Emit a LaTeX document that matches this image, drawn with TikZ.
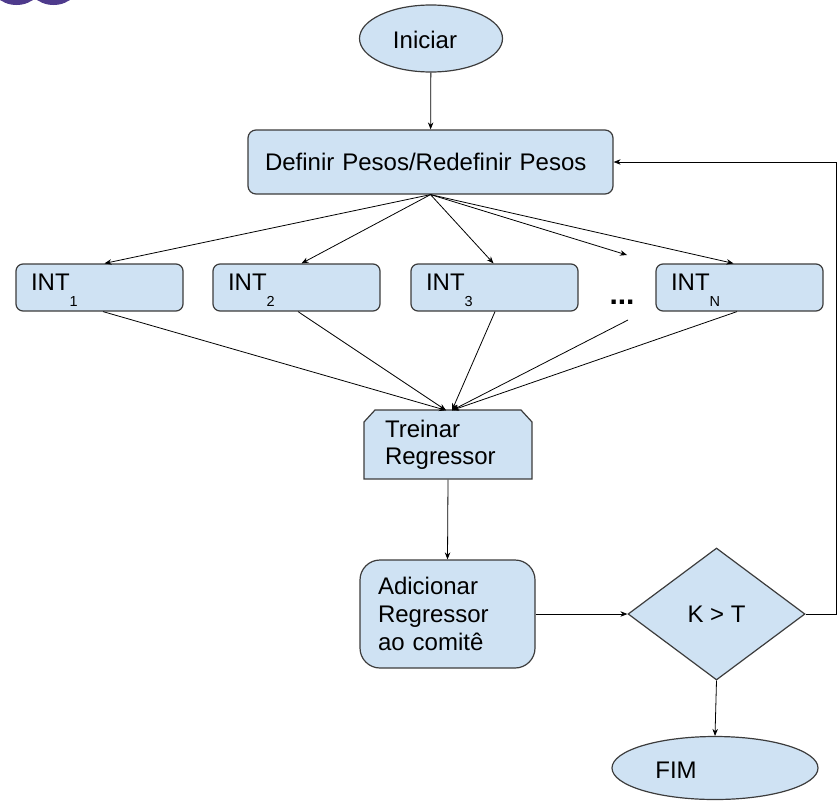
\documentclass[tikz,border=0pt]{standalone}
\usepackage{fontspec}
\setmainfont{Liberation Sans}
\usetikzlibrary{shapes.geometric,arrows.meta}
\definecolor{boxfill}{HTML}{CFE2F3}
\definecolor{boxline}{HTML}{3C3C3C}
\definecolor{logo}{HTML}{4E3A8C}
\newcommand{\intsub}[1]{\raisebox{-16pt}[0pt][10pt]{\fontsize{14.5}{15}\selectfont #1}}
\begin{document}
\begin{tikzpicture}[x=1pt,y=-1pt,
  every node/.style={font=\fontsize{24}{27}\selectfont},
  shapebox/.style={draw=boxline,fill=boxfill,line width=1.2pt},
  intbox/.style={shapebox,rounded corners=7pt,minimum height=47pt,inner xsep=15pt,text width=137pt,align=left},
  arr/.style={-{Stealth[length=7pt,width=5.5pt]},line width=0.8pt,black},
  ln/.style={line width=0.8pt,black}]
\useasboundingbox (0,0) rectangle (837,803);
\begin{scope}
  \clip (0,0) rectangle (837,803);
  \fill[logo] (16.5,-24.7) circle (29.7pt);
  \fill[logo] (53.5,-24.7) circle (29.7pt);
\end{scope}
% start
\node[shapebox,ellipse,minimum width=143pt,minimum height=67pt,inner sep=0pt] (start) at (431,38.5) {};
\node (starttext) at (425,40) {Iniciar};
% define
\node[shapebox,rounded corners=8pt,minimum width=365pt,minimum height=64pt,inner xsep=17pt,text width=331pt,align=left] (define) at (430.5,162) {Definir Pesos/Redefinir Pesos};
% INT boxes
\node[intbox] (int1) at (99.5,287.5) {INT\intsub{1}};
\node[intbox] (int2) at (296.5,287.5) {INT\intsub{2}};
\node[intbox] (int3) at (494.5,287.5) {INT\intsub{3}};
\node[intbox] (intn) at (739.5,287.5) {INT\intsub{N}};
\node[font=\fontsize{30}{30}\selectfont\bfseries] (dots) at (622,302) {...};
\coordinate (dotsin) at (627,255);
\coordinate (dotsout) at (628,320);
% train
\draw[shapebox] (364,422) -- (375,410) -- (521,410) -- (532,422) -- (532,479) -- (364,479) -- cycle;
\node[minimum width=168pt,minimum height=69pt,inner xsep=21pt,text width=126pt,align=left,inner ysep=0pt] (train) at (448,445) {Treinar\\Regressor};
% add
\node[shapebox,rounded corners=20pt,minimum width=175pt,minimum height=108pt,inner xsep=18pt,text width=139pt,align=left,font=\fontsize{24}{28}\selectfont] (add) at (447.5,614) {Adicionar\\Regressor\\ao comitê};
% test
\node[shapebox,diamond,minimum width=177pt,minimum height=132pt,inner sep=0pt] (test) at (716.5,614) {K > T};
% end
\node[shapebox,ellipse,minimum width=206pt,minimum height=63pt,inner sep=0pt] (end) at (715,768) {};
\node (endtext) at (676,770) {FIM};
\coordinate (corner) at (836,614);
% connectors
\draw[arr] (start) -- (define);
\draw[arr] (define.south) -- ([xshift=5pt]int1.north);
\draw[arr] (define.south) -- ([xshift=5pt]int2.north);
\draw[arr] (define.south) -- ([xshift=-1pt]int3.north);
\draw[arr] (define.south) -- (dotsin);
\draw[arr] (define.south) -- ([xshift=-6pt]intn.north);
\draw[arr] ([xshift=3.5pt]int1.south) -- ([xshift=-2pt]train.north);
\draw[arr] ([xshift=1.5pt]int2.south) -- ([xshift=-2pt]train.north);
\draw[arr] ([xshift=0.5pt]int3.south) -- ([xshift=4pt]train.north);
\draw[arr] (dotsout) -- ([xshift=4pt]train.north);
\draw[arr] ([xshift=-2.5pt]intn.south) -- ([xshift=4pt]train.north);
\draw[arr] (train.south) -- (add.north);
\draw[arr] (add.east) -- (test.west);
\draw[arr] (test.east) -- (corner) |- (define.east);
\draw[arr] (test.south) -- (end.north);
\end{tikzpicture}
\end{document}
